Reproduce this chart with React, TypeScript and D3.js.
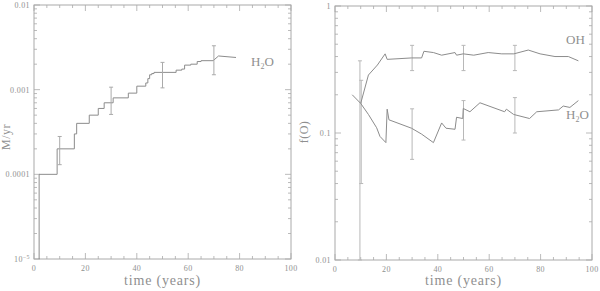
import * as d3 from 'd3';

// left panel: mass loss (step curve)
const stepT = [2, 2, 9, 15.7, 16.6, 21.5, 25, 27.3, 30.8, 36.7, 40, 43.5, 44.3, 45, 45.8, 46.7, 55.3, 57.5, 58.6, 61, 63.5, 65, 69.7];
const stepV = [1e-5, 1e-4, 2e-4, 3e-4, 4e-4, 5e-4, 6e-4, 7e-4, 8e-4, 9.1e-4, 1.1e-3, 1.2e-3, 1.35e-3, 1.5e-3, 1.55e-3, 1.6e-3, 1.7e-3, 1.75e-3, 1.95e-3, 2.0e-3, 2.15e-3, 2.2e-3, 2.2e-3];
const tailT = [69.7, 71.8, 78.6];
const tailV = [2.2e-3, 2.5e-3, 2.4e-3];
const massErrT = [10, 30, 50, 70];
const massErrLo = [1.3e-4, 5.1e-4, 1.05e-3, 1.5e-3];
const massErrHi = [2.8e-4, 1.07e-3, 2.1e-3, 3.3e-3];

// right panel: f(O)
const ohT = [10, 13, 16.5, 19.5, 20.3, 29.8, 33.7, 34.6, 38.3, 41.5, 46.7, 47.3, 49.9, 54, 59.6, 64.9, 69.6, 75.2, 79.8, 85.6, 90.8, 94.7];
const ohV = [0.171, 0.286, 0.343, 0.42, 0.38, 0.39, 0.39, 0.44, 0.43, 0.41, 0.43, 0.41, 0.42, 0.41, 0.43, 0.42, 0.42, 0.45, 0.42, 0.4, 0.4, 0.37];
const h2oT = [6.7, 10, 13, 16.2, 17.5, 19.8, 20.3, 21, 29.8, 33.7, 38.3, 41.5, 43.2, 46.7, 47.3, 49.7, 49.9, 52.5, 56.4, 66, 66.7, 69.5, 75.7, 78.5, 87, 88.8, 91.4, 94.7];
const h2oV = [0.2, 0.171, 0.14, 0.11, 0.094, 0.084, 0.154, 0.127, 0.109, 0.098, 0.084, 0.12, 0.109, 0.107, 0.133, 0.13, 0.156, 0.147, 0.173, 0.147, 0.154, 0.14, 0.13, 0.147, 0.152, 0.163, 0.159, 0.18];
const ohErrT = [9.7, 30, 50, 70];
const ohErrLo = [0.01, 0.31, 0.31, 0.31];
const ohErrHi = [0.37, 0.49, 0.49, 0.49];
const h2oErrT = [10.2, 30, 50, 70];
const h2oErrLo = [0.04, 0.062, 0.088, 0.1];
const h2oErrHi = [0.26, 0.155, 0.18, 0.19];

const xTicks = [0, 20, 40, 60, 80, 100];
const leftYTicks = [1e-5, 1e-4, 1e-3, 1e-2];
const leftYLabels = ['10', '0.0001', '0.001', '0.01'];
const rightYTicks = [0.01, 0.1, 1];
const rightYLabels = ['0.01', '0.1', '1'];

const FRAME = '#aaaaaa';
const LINE = '#8c8c8c';
const TEXT = '#8f8f8f';
const FONT = 'Liberation Serif, DejaVu Serif, serif';

type PanelProps = {
  x0: number; x1: number; y0: number; y1: number;
  ydom: [number, number];
  yTicks: number[]; yLabels: string[];
  children: (x: d3.ScaleLinear<number, number>, y: d3.ScaleLogarithmic<number, number>) => any;
};

function ErrBars({ x, y, t, lo, hi, color = FRAME, w = 1 }: any) {
  return (
    <g stroke={color} strokeWidth={w}>
      {t.map((tt: number, i: number) => (
        <g key={i}>
          <line x1={x(tt)} x2={x(tt)} y1={y(lo[i])} y2={y(hi[i])} />
          <line x1={x(tt) - 2} x2={x(tt) + 2} y1={y(lo[i])} y2={y(lo[i])} />
          <line x1={x(tt) - 2} x2={x(tt) + 2} y1={y(hi[i])} y2={y(hi[i])} />
        </g>
      ))}
    </g>
  );
}

function Panel({ x0, x1, y0, y1, ydom, yTicks, yLabels, children }: PanelProps) {
  const x = d3.scaleLinear().domain([0, 100]).range([x0, x1]);
  const y = d3.scaleLog().domain(ydom).range([y1, y0]);
  const minorX = d3.range(0, 101, 5).filter((v) => v % 20 !== 0);
  const minorY: number[] = [];
  for (let e = Math.log10(ydom[0]); e < Math.log10(ydom[1]); e++) {
    for (let m = 2; m < 10; m++) minorY.push(m * Math.pow(10, e));
  }
  return (
    <g>
      <rect x={x0} y={y0} width={x1 - x0} height={y1 - y0} fill="none" stroke={FRAME} strokeWidth={1} />
      <g stroke={FRAME} strokeWidth={0.8}>
        {xTicks.map((t) => (
          <g key={'xm' + t}>
            <line x1={x(t)} x2={x(t)} y1={y1} y2={y1 - 6} />
            <line x1={x(t)} x2={x(t)} y1={y0} y2={y0 + 6} />
          </g>
        ))}
        {minorX.map((t) => (
          <g key={'xn' + t}>
            <line x1={x(t)} x2={x(t)} y1={y1} y2={y1 - 3} />
            <line x1={x(t)} x2={x(t)} y1={y0} y2={y0 + 3} />
          </g>
        ))}
        {yTicks.map((t) => (
          <g key={'ym' + t}>
            <line x1={x0} x2={x0 + 6} y1={y(t)} y2={y(t)} />
            <line x1={x1} x2={x1 - 6} y1={y(t)} y2={y(t)} />
          </g>
        ))}
        {minorY.map((t) => (
          <g key={'yn' + t}>
            <line x1={x0} x2={x0 + 3} y1={y(t)} y2={y(t)} />
            <line x1={x1} x2={x1 - 3} y1={y(t)} y2={y(t)} />
          </g>
        ))}
      </g>
      <g fill={TEXT} fontFamily={FONT} fontSize={8} letterSpacing={0.4}>
        {xTicks.map((t) => (
          <text key={'xl' + t} x={x(t)} y={y1 + 12} textAnchor="middle">{t}</text>
        ))}
        {yTicks.map((t, i) => (
          <text key={'yl' + t} x={x0 - 4} y={y(t) + 3} textAnchor="end">
            {yLabels[i]}
            {t === 1e-5 ? <tspan dy={-3} fontSize={6}>−5</tspan> : null}
          </text>
        ))}
      </g>
      <text x={(x0 + x1) / 2} y={285} textAnchor="middle" fill={TEXT} fontFamily={FONT} fontSize={14} letterSpacing={0.8}>
        time (years)
      </text>
      {children(x, y)}
    </g>
  );
}

export default function App() {
  const stepLine = d3.line<number>().curve(d3.curveStepAfter);
  const plain = d3.line<number>();
  return (
    <svg width={600} height={291} style={{ position: 'absolute', left: 0, top: 0, background: '#fff' }}>
      <Panel x0={34} x1={291} y0={5} y1={259} ydom={[1e-5, 1e-2]} yTicks={leftYTicks} yLabels={leftYLabels}>
        {(x, y) => (
          <g>
            <path d={stepLine.x((_, i) => x(stepT[i])).y((v) => y(v))(stepV) || ''} fill="none" stroke={LINE} strokeWidth={1} />
            <path d={plain.x((_, i) => x(tailT[i])).y((v) => y(v))(tailV) || ''} fill="none" stroke={LINE} strokeWidth={1} />
            <ErrBars x={x} y={y} t={massErrT} lo={massErrLo} hi={massErrHi} />
            <text x={251} y={66} fill={TEXT} fontFamily={FONT} fontSize={13}>
              H<tspan dy={3} fontSize={8}>2</tspan><tspan dy={-3}>O</tspan>
            </text>
          </g>
        )}
      </Panel>
      <text transform="translate(10,137) rotate(-90)" textAnchor="middle" fill={TEXT} fontFamily={FONT} fontSize={12} letterSpacing={0.5}>M/yr</text>
      <Panel x0={335} x1={592} y0={6} y1={260} ydom={[0.01, 1]} yTicks={rightYTicks} yLabels={rightYLabels}>
        {(x, y) => (
          <g>
            <ErrBars x={x} y={y} t={ohErrT} lo={ohErrLo} hi={ohErrHi} color="#b8b8b8" />
            <ErrBars x={x} y={y} t={h2oErrT} lo={h2oErrLo} hi={h2oErrHi} color="#b8b8b8" />
            <path d={plain.x((_, i) => x(ohT[i])).y((v) => y(v))(ohV) || ''} fill="none" stroke={LINE} strokeWidth={1} />
            <path d={plain.x((_, i) => x(h2oT[i])).y((v) => y(v))(h2oV) || ''} fill="none" stroke={LINE} strokeWidth={1} />
            <text x={566} y={44} fill={TEXT} fontFamily={FONT} fontSize={13}>OH</text>
            <text x={566} y={119} fill={TEXT} fontFamily={FONT} fontSize={13}>
              H<tspan dy={3} fontSize={8}>2</tspan><tspan dy={-3}>O</tspan>
            </text>
          </g>
        )}
      </Panel>
      <text transform="translate(308,132) rotate(-90)" textAnchor="middle" fill={TEXT} fontFamily={FONT} fontSize={12} letterSpacing={0.5}>f(O)</text>
    </svg>
  );
}
